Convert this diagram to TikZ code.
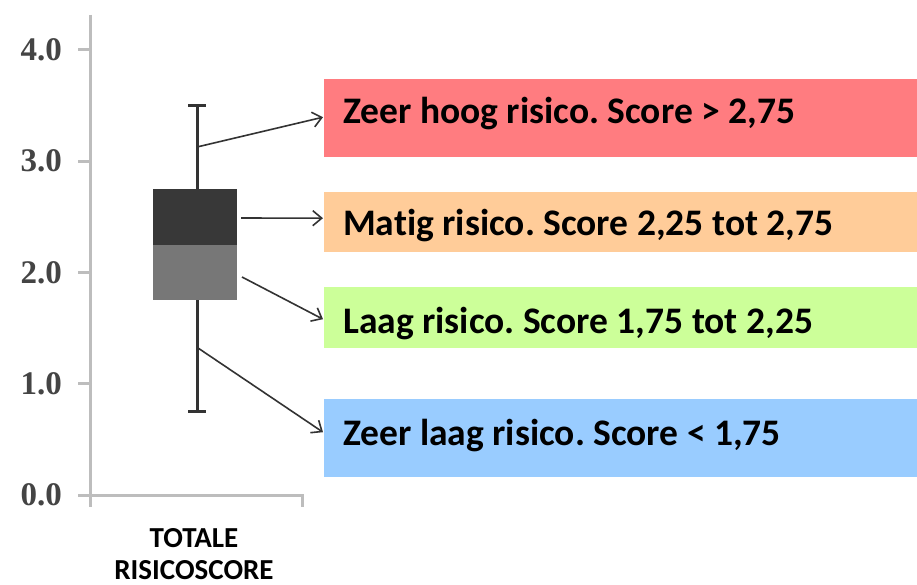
\documentclass[tikz,border=0pt]{standalone}
\usepackage{fontspec}
\usetikzlibrary{arrows.meta,calc}
\newfontfamily\calibrifont[Ligatures=NoCommon]{Carlito}
\newfontfamily\axisfont{Liberation Serif}
\frenchspacing
\definecolor{hiRed}{HTML}{FF7C80}
\definecolor{midOrange}{HTML}{FFCC99}
\definecolor{lowGreen}{HTML}{CCFF99}
\definecolor{vlowBlue}{HTML}{99CCFF}
\definecolor{axisGray}{HTML}{BDBDBD}
\definecolor{numGray}{HTML}{444444}
\definecolor{boxDark}{HTML}{383838}
\definecolor{boxLight}{HTML}{777777}
\definecolor{inkGray}{HTML}{333333}
\tikzset{
  axisline/.style={draw=axisGray, line width=3pt},
  ticklabel/.style={font=\axisfont\bfseries\fontsize{33pt}{36pt}\selectfont, text=numGray, anchor=east, inner sep=0pt},
  whisker/.style={draw=inkGray, line width=3pt},
  pointer/.style={draw=inkGray, line width=1.6pt, -{Straight Barb[length=9pt,width=15pt,line width=1.6pt]}},
  band/.style={rectangle, inner sep=0pt, minimum width=593pt, anchor=north west},
  bandtext/.style={font=\calibrifont\bfseries\fontsize{37.5pt}{44pt}\selectfont, anchor=base west, inner sep=0pt},
  caption/.style={font=\calibrifont\bfseries\fontsize{29pt}{32pt}\selectfont, align=center, inner sep=0pt, anchor=base}
}
\begin{document}
\begin{tikzpicture}[x=1pt, y=-1pt]
  \useasboundingbox[fill=white] (0,0) rectangle (917,585);

  % axes
  \draw[axisline] (90,15) -- (90,507);
  \draw[axisline] (80,495) -- (302,495) -- (302,507);
  \foreach \v/\t in {0/0.0,1/1.0,2/2.0,3/3.0,4/4.0}{
    \draw[axisline] (78,{495-111.25*\v}) -- (90,{495-111.25*\v});
    \node[ticklabel] (tick\v) at (62,{495-111.25*\v}) {\t};
  }

  % whiskers
  \draw[whisker] (197,105.6) -- (197,411.6);
  \draw[whisker] (188,105.6) -- (206,105.6);
  \draw[whisker] (188,411.6) -- (206,411.6);

  % box: upper and lower quartile parts
  \node[rectangle, fill=boxDark, inner sep=0pt, minimum width=84pt, minimum height=55.6pt, anchor=north west] (upper) at (153,189) {};
  \node[rectangle, fill=boxLight, inner sep=0pt, minimum width=84pt, minimum height=55.4pt, anchor=north west] (lower) at (153,244.6) {};

  % category bands
  \node[band, fill=hiRed, minimum height=78pt] (hi) at (324,79) {};
  \node[band, fill=midOrange, minimum height=60pt] (mid) at (324,192) {};
  \node[band, fill=lowGreen, minimum height=61pt] (low) at (324,287) {};
  \node[band, fill=vlowBlue, minimum height=78pt] (vlow) at (324,399) {};

  \node[bandtext] (hiT) at (343,123.5) {Zeer hoog risico. Score > 2,75};
  \node[bandtext] (midT) at (343,235.5) {Matig risico. Score 2,25 tot 2,75};
  \node[bandtext] (lowT) at (343,333) {Laag risico. Score 1,75 tot 2,25};
  \node[bandtext] (vlowT) at (343,445) {Zeer laag risico. Score < 1,75};

  % pointers from the plot to the bands
  \coordinate (p1) at (197,147);
  \coordinate (p2) at (241,218);
  \coordinate (p3) at (242,277);
  \coordinate (p4) at (198,348);
  \draw[pointer] (p1) -- ($(hi.west)+(-1,-1)$);
  \draw[pointer] (p2) -- ($(mid.west)+(-1,-4)$);
  \draw[pointer] (p3) -- ($(low.west)+(-1,1.5)$);
  \draw[pointer] (p4) -- ($(vlow.west)+(-1,-6)$);

  % category caption (anchored on the baseline of its last line)
  \node[caption] (cap) at (194,579) {TOTALE\\RISICOSCORE};
\end{tikzpicture}
\end{document}
